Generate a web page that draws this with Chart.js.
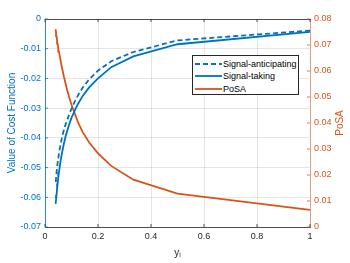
<!DOCTYPE html>
<html>
<head>
<meta charset="utf-8">
<script src="https://cdn.jsdelivr.net/npm/chart.js@4.4.1/dist/chart.umd.min.js"></script>
<style>
body{margin:0;background:#fff;}
#wrap{position:relative;width:350px;height:263px;}
#legend{position:absolute;left:192px;top:55px;width:107px;height:40px;border:1px solid #262626;background:#fff;font:9px "Liberation Sans",Arial,sans-serif;color:#000;box-sizing:border-box;}
.row{position:absolute;left:2px;height:12px;line-height:12px;white-space:nowrap;}
.row svg{position:absolute;left:0;top:0;}
.row span{position:absolute;left:28px;top:0;}
</style>
</head>
<body>
<div id="wrap">
<canvas id="chart" width="350" height="263"></canvas>
<div id="legend"></div>
</div>
<script>
// y_i = 1/n, n = 1..25
var xValues = [1, 0.5, 0.3333, 0.25, 0.2, 0.1667, 0.1429, 0.125, 0.1111, 0.1, 0.0909, 0.0833, 0.0769,
	0.0714, 0.0667, 0.0625, 0.0588, 0.0556, 0.0526, 0.05, 0.0476, 0.0455, 0.0435, 0.0417, 0.04];
var signalAnticipating = [-0.0039, -0.0072, -0.0111, -0.0142, -0.0174, -0.0203, -0.0230, -0.0256, -0.0280,
	-0.0302, -0.0322, -0.0341, -0.0357, -0.0373, -0.0389, -0.0405, -0.0421, -0.0437, -0.0453, -0.0469,
	-0.0485, -0.0501, -0.0518, -0.0537, -0.0556];
var signalTaking = [-0.0043, -0.0085, -0.0126, -0.0162, -0.0200, -0.0230, -0.0258, -0.0285, -0.0310,
	-0.0333, -0.0356, -0.0378, -0.0398, -0.0419, -0.0439, -0.0459, -0.0478, -0.0497, -0.0516, -0.0535,
	-0.0554, -0.0573, -0.0592, -0.0607, -0.0622];
var posa = [0.0066, 0.0128, 0.0182, 0.0235, 0.0283, 0.0325, 0.0364, 0.0401, 0.0440, 0.0470, 0.0500,
	0.0528, 0.0555, 0.0578, 0.0600, 0.0620, 0.0640, 0.0658, 0.0675, 0.0690, 0.0705, 0.0720, 0.0734,
	0.0748, 0.0761];

var xTickLabels = ['0', '0.2', '0.4', '0.6', '0.8', '1'];
var leftTickLabels = ['-0.07', '-0.06', '-0.05', '-0.04', '-0.03', '-0.02', '-0.01', '0'];
var rightTickLabels = ['0', '0.01', '0.02', '0.03', '0.04', '0.05', '0.06', '0.07', '0.08'];
var rightTitle = 'PoSA';

var BLUE = '#0072BD';
var ORANGE = '#D95319';
var DARK = '#262626';
var GRID = 'rgba(38,38,38,0.12)';

function points(ys) {
	return xValues.map(function (x, i) { return {x: x, y: ys[i]}; });
}

// small inward tick marks like the original, plus the right title read bottom-to-top
var extras = {
	id: 'extras',
	afterDraw: function (chart) {
		var c = chart.ctx, a = chart.chartArea, s = chart.scales;
		c.save();
		c.lineWidth = 0.8;
		c.strokeStyle = DARK;
		s.x.ticks.forEach(function (t) {
			var px = s.x.getPixelForValue(t.value);
			c.beginPath();
			c.moveTo(px, a.bottom); c.lineTo(px, a.bottom - 3);
			c.moveTo(px, a.top); c.lineTo(px, a.top + 3);
			c.stroke();
		});
		c.strokeStyle = BLUE;
		s.y.ticks.forEach(function (t) {
			var py = s.y.getPixelForValue(t.value);
			c.beginPath(); c.moveTo(a.left, py); c.lineTo(a.left + 3, py); c.stroke();
		});
		c.strokeStyle = ORANGE;
		s.y2.ticks.forEach(function (t) {
			var py = s.y2.getPixelForValue(t.value);
			c.beginPath(); c.moveTo(a.right, py); c.lineTo(a.right - 3, py); c.stroke();
		});
		c.translate(s.y2.right - 10, (a.top + a.bottom) / 2);
		c.rotate(-Math.PI / 2);
		c.fillStyle = ORANGE;
		c.font = '10px "Liberation Sans", Arial, sans-serif';
		c.textAlign = 'center';
		c.textBaseline = 'middle';
		c.fillText(rightTitle, 0, 0);
		c.restore();
	}
};

Chart.defaults.font.family = '"Liberation Sans", Arial, Helvetica, sans-serif';
Chart.defaults.font.size = 9;

var ctx = document.getElementById('chart');
var chart = new Chart(ctx, {
	type: 'line',
	data: {
		datasets: [
			{label: 'Signal-anticipating', data: points(signalAnticipating), yAxisID: 'y',
				borderColor: BLUE, borderWidth: 1.8, borderDash: [5, 3], pointRadius: 0, tension: 0},
			{label: 'Signal-taking', data: points(signalTaking), yAxisID: 'y',
				borderColor: BLUE, borderWidth: 1.8, pointRadius: 0, tension: 0},
			{label: 'PoSA', data: points(posa), yAxisID: 'y2',
				borderColor: ORANGE, borderWidth: 1.8, pointRadius: 0, tension: 0}
		]
	},
	options: {
		responsive: false,
		animation: false,
		layout: {padding: {top: 19, left: 0, right: 0, bottom: 0}},
		plugins: {legend: {display: false}, tooltip: {enabled: false}},
		scales: {
			x: {
				type: 'linear', position: 'bottom', min: 0, max: 1,
				ticks: {stepSize: 0.2, color: DARK, padding: 4, maxRotation: 0,
					callback: function (v) { return xTickLabels[Math.round(v / 0.2)]; }},
				grid: {color: GRID, drawTicks: false},
				border: {color: DARK, width: 0.8},
				title: {display: true, text: 'yᵢ', color: DARK, font: {size: 10}, padding: {top: 2, bottom: 4}},
				afterFit: function (s) { s.height = 36; }
			},
			xTop: {
				type: 'linear', position: 'top', min: 0, max: 1,
				ticks: {display: false},
				grid: {display: false, drawTicks: false},
				border: {color: DARK, width: 0.8},
				afterFit: function (s) { s.height = 0; }
			},
			y: {
				type: 'linear', position: 'left', min: -0.07, max: 0,
				ticks: {stepSize: 0.01, color: BLUE, padding: 4,
					callback: function (v) { return leftTickLabels[Math.round((v + 0.07) / 0.01)]; }},
				grid: {color: GRID, drawTicks: false},
				border: {color: BLUE, width: 0.8},
				title: {display: true, text: 'Value of Cost Function', color: BLUE, font: {size: 10}, padding: {top: 6, bottom: 2}},
				afterFit: function (s) { s.width = 45; }
			},
			y2: {
				type: 'linear', position: 'right', min: 0, max: 0.08,
				ticks: {stepSize: 0.01, color: ORANGE, padding: 4,
					callback: function (v) { return rightTickLabels[Math.round(v / 0.01)]; }},
				grid: {display: false, drawTicks: false},
				border: {color: 'rgba(217,83,25,0.6)', width: 0.8},
				afterFit: function (s) { s.width = 40; }
			}
		}
	},
	plugins: [extras]
});

// legend inside the plot, drawn from the dataset styles
var legend = document.getElementById('legend');
var rowTops = [1.5, 14, 26.5];
chart.data.datasets.forEach(function (ds, i) {
	var row = document.createElement('div');
	row.className = 'row';
	row.style.top = rowTops[i] + 'px';
	var dash = ds.borderDash ? ds.borderDash.join(',') : 'none';
	row.innerHTML = '<svg width="27" height="12"><line x1="0" y1="6" x2="27" y2="6" stroke="' + ds.borderColor +
		'" stroke-width="1.8" stroke-dasharray="' + dash + '"/></svg><span>' + ds.label + '</span>';
	legend.appendChild(row);
});
</script>
</body>
</html>
